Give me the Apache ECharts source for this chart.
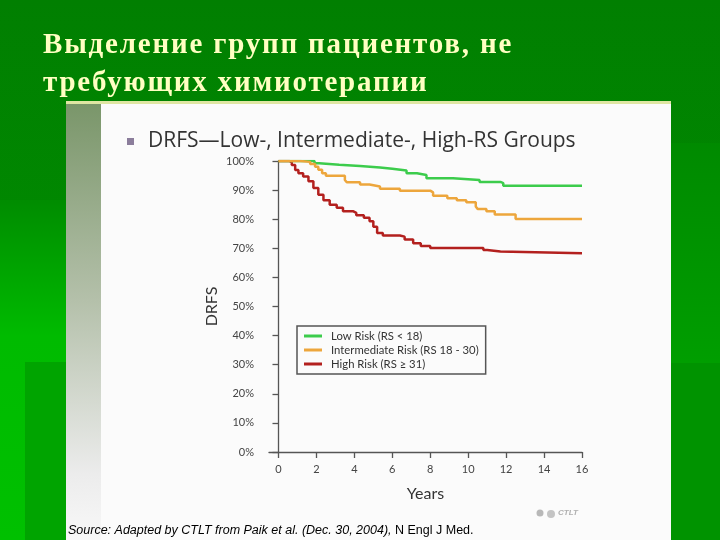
<!DOCTYPE html>
<html><head><meta charset="utf-8">
<script src="https://cdn.jsdelivr.net/npm/echarts@6/dist/echarts.min.js"></script>
<style>
html,body{margin:0;padding:0;background:#008800;}
#wrap{position:relative;width:720px;height:540px;}
#c{position:absolute;left:0;top:0;width:720px;height:540px;}
#title{position:absolute;left:43px;top:24px;margin:0;font:bold 29px/38px "Liberation Serif","DejaVu Serif",serif;color:#ffffc2;letter-spacing:1.8px;white-space:nowrap;z-index:5;}
</style>
</head><body><div id="wrap"><div id="c"></div><div id="title"></div></div>
<script>
const titleLines = ['Выделение групп пациентов, не', 'требующих химиотерапии'];
const chartTitle = 'DRFS—Low-, Intermediate-, High-RS Groups';
const sourceItalic = 'Source: Adapted by CTLT from Paik et al. (Dec. 30, 2004), ';
const sourcePlain = 'N Engl J Med.';
const seriesNames = ['Low Risk (RS < 18)', 'Intermediate Risk (RS 18 - 30)', 'High Risk (RS ≥ 31)'];
const xTicks = [0, 2, 4, 6, 8, 10, 12, 14, 16];

const lowYears = [0, 1.9, 2.15, 3.2, 4.3, 5.35, 6.0, 6.75, 7.3, 7.8, 9.2, 10.6, 11.7, 11.85, 16];
const lowDRFS  = [100, 99.2, 98.75, 98.3, 97.8, 97.3, 96.7, 95.8, 95.2, 94.1, 93.5, 92.8, 92.4, 91.5, 91.5];

const midYears = [0, 1.14, 1.67, 1.93, 2.1, 2.3, 2.5, 3.5, 3.6, 4.3, 4.8, 5.35, 6.4, 8.0, 8.15, 8.9, 9.4, 9.9, 10.4, 10.5, 10.96, 11.4, 12.5, 16];
const midDRFS  = [100, 99.7, 99, 98, 97, 95.8, 94.9, 93.5, 92.7, 91.9, 91.25, 90.5, 89.8, 89.2, 88.1, 87.2, 86.5, 85.8, 84.4, 83.5, 82.7, 81.6, 80.1, 80.1];

const highYears = [0, 0.58, 0.7, 0.88, 1.05, 1.3, 1.58, 1.84, 2.1, 2.37, 2.7, 3.07, 3.4, 3.95, 4.1, 4.5, 4.8, 5.0, 5.2, 5.5, 6.4, 6.65, 7.1, 7.5, 8.0, 10.8, 11.0, 11.7, 16];
const highDRFS  = [100, 99.5, 98.6, 96.9, 95.8, 94.7, 93, 90.7, 88.4, 86.5, 85, 83.9, 82.7, 82.2, 81.4, 80.5, 79.3, 77.4, 75.3, 74.4, 74, 73, 71.7, 70.8, 70.1, 69.4, 68.9, 68.3, 68.3];

const colors = ['#3ccc4c', '#eda63c', '#b3201e'];
const zip = (xs, ys) => xs.map((x, i) => [x, ys[i]]);

document.getElementById('title').innerHTML = titleLines.join('<br>');

const chart = echarts.init(document.getElementById('c'));
const axisFont = 'Lato, "Open Sans", sans-serif';

chart.setOption({
  animation: false,
  backgroundColor: 'transparent',
  graphic: [
    { type: 'rect', z: -20, shape: { x: 0, y: 0, width: 720, height: 540 },
      style: { fill: new echarts.graphic.LinearGradient(0, 0, 0, 1, [
        { offset: 0, color: '#017f01' }, { offset: 0.5, color: '#008a00' }, { offset: 1, color: '#009600' }]) } },
    { type: 'rect', z: -19, shape: { x: 0, y: 200, width: 66, height: 340 },
      style: { fill: new echarts.graphic.LinearGradient(0, 0, 0, 1, [
        { offset: 0, color: '#008c00' }, { offset: 0.4, color: '#00bb00' }, { offset: 1, color: '#00c000' }]) } },
    { type: 'rect', z: -18, shape: { x: 25, y: 362, width: 41, height: 178 }, style: { fill: '#00a400' } },
    { type: 'rect', z: -19, shape: { x: 671, y: 143, width: 49, height: 220 },
      style: { fill: new echarts.graphic.LinearGradient(0, 0, 0, 1, [
        { offset: 0, color: '#008a00' }, { offset: 1, color: '#009e00' }]) } },
    { type: 'rect', z: -19, shape: { x: 671, y: 363, width: 49, height: 177 }, style: { fill: '#009300' } },
    { type: 'rect', z: -17, shape: { x: 66, y: 101, width: 605, height: 439 }, style: { fill: '#fbfbfb' } },
    { type: 'rect', z: -16, shape: { x: 66, y: 101, width: 605, height: 3 }, style: { fill: '#dfe6a3' } },
    { type: 'rect', z: -16, shape: { x: 66, y: 104, width: 35, height: 436 },
      style: { fill: new echarts.graphic.LinearGradient(0, 0, 0, 1, [
        { offset: 0, color: '#7a966a' }, { offset: 0.45, color: '#b4c0aa' }, { offset: 0.85, color: '#ececec' }, { offset: 1, color: '#f8f8f8' }]) } },
    { type: 'rect', z: -16, shape: { x: 127, y: 138, width: 7, height: 7 }, style: { fill: '#8b7d9b' } },
    { type: 'text', z: 10, x: 148, y: 141, style: { text: chartTitle, fill: '#333333',
      font: '21px "Open Sans", Lato, sans-serif', textVerticalAlign: 'middle' } },
    { type: 'text', z: 10, x: 68, y: 531, style: {
      text: '{i|' + sourceItalic + '}{n|' + sourcePlain + '}', textVerticalAlign: 'middle',
      rich: { i: { fontStyle: 'italic', fontSize: 12.5, fontFamily: '"Liberation Sans", Arial, sans-serif', color: '#2a2a2a' },
              n: { fontSize: 12.5, fontFamily: '"Liberation Sans", Arial, sans-serif', color: '#2a2a2a' } } } },
    { type: 'circle', z: 10, shape: { cx: 540, cy: 513, r: 3.5 }, style: { fill: '#b8b8b8' } },
    { type: 'circle', z: 10, shape: { cx: 551, cy: 514, r: 4 }, style: { fill: '#c4c4c4' } },
    { type: 'text', z: 10, x: 558, y: 513, style: { text: 'CTLT', fill: '#b0b0b0',
      font: 'italic bold 8px "Liberation Sans", Arial, sans-serif', textVerticalAlign: 'middle' } }
  ],
  grid: { left: 269, right: 138, top: 161, bottom: 88, containLabel: false },
  legend: {
    orient: 'vertical', left: 297, top: 326,
    data: seriesNames,
    backgroundColor: '#fbfbfb',
    borderColor: '#555555', borderWidth: 1.5, borderRadius: 0,
    padding: [3, 7, 3, 7], itemGap: 0,
    itemWidth: 18, itemHeight: 3, icon: 'rect',
    textStyle: { fontSize: 11.3, lineHeight: 14, color: '#333', fontFamily: axisFont, padding: [0, 0, 0, 4] }
  },
  xAxis: {
    type: 'value', min: -0.5, max: 16,
    name: 'Years', nameLocation: 'middle', nameGap: 34,
    nameTextStyle: { fontSize: 16, color: '#333', fontFamily: axisFont },
    axisLine: { show: true, lineStyle: { color: '#555', width: 1.3 } },
    axisTick: { show: true, length: 6, customValues: xTicks, lineStyle: { color: '#555', width: 1.3 } },
    axisLabel: { customValues: xTicks, fontSize: 11, color: '#444', margin: 12, fontFamily: axisFont },
    splitLine: { show: false }
  },
  yAxis: {
    type: 'value', min: 0, max: 100, interval: 10,
    name: 'DRFS', nameLocation: 'middle', nameGap: 49,
    nameTextStyle: { fontSize: 16, color: '#333', fontFamily: axisFont },
    axisLine: { show: true, lineStyle: { color: '#555', width: 1.3 } },
    axisTick: { show: true, length: 6, lineStyle: { color: '#555', width: 1.3 } },
    axisLabel: { formatter: '{value}%', fontSize: 11, color: '#444', margin: 15, fontFamily: axisFont },
    splitLine: { show: false }
  },
  series: [
    { name: seriesNames[0], type: 'line', step: 'end', z: 3, data: zip(lowYears, lowDRFS), showSymbol: false,
      color: colors[0], lineStyle: { width: 2.5, color: colors[0] } },
    { name: seriesNames[1], type: 'line', step: 'end', z: 4, data: zip(midYears, midDRFS), showSymbol: false,
      color: colors[1], lineStyle: { width: 2.5, color: colors[1] } },
    { name: seriesNames[2], type: 'line', step: 'end', z: 2, data: zip(highYears, highDRFS), showSymbol: false,
      color: colors[2], lineStyle: { width: 2.5, color: colors[2] } }
  ]
});
</script></body></html>
